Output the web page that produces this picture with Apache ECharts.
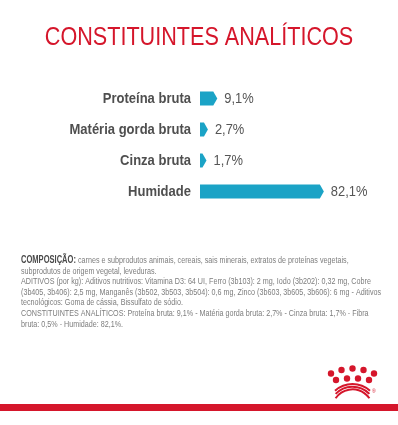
<!DOCTYPE html>
<html>
<head>
<meta charset="utf-8">
<style>
  html, body { margin: 0; padding: 0; background: #fff; }
  #chart { width: 398px; height: 425px; }
</style>
<script src="https://cdn.jsdelivr.net/npm/echarts@6/dist/echarts.min.js"></script>
</head>
<body>
<div id="chart"></div>
<script>
const categories = ['Proteína bruta', 'Matéria gorda bruta', 'Cinza bruta', 'Humidade']
const values = [9.1, 2.7, 1.7, 82.1]

const compositionLines = [
  '{b|COMPOSIÇÃO:} carnes e subprodutos animais, cereais, sais minerais, extratos de proteínas vegetais,',
  'subprodutos de origem vegetal, leveduras.',
  'ADITIVOS (por kg): Aditivos nutritivos: Vitamina D3: 64 UI, Ferro (3b103): 2 mg, Iodo (3b202): 0,32 mg, Cobre',
  '(3b405, 3b406): 2,5 mg, Manganês (3b502, 3b503, 3b504): 0,6 mg, Zinco (3b603, 3b605, 3b606): 6 mg - Aditivos',
  'tecnológicos: Goma de cássia, Bissulfato de sódio.',
  'CONSTITUINTES ANALÍTICOS: Proteína bruta: 9,1% - Matéria gorda bruta: 2,7% - Cinza bruta: 1,7% - Fibra',
  'bruta: 0,5% - Humidade: 82,1%.'
]

const FONT = "'Liberation Sans', Arial, sans-serif"
const RED = '#d5162b'
const TEAL = '#1ba3c6'

const fmt = v => v.toFixed(1).replace('.', ',') + '%'

const chart = echarts.init(document.getElementById('chart'), null, { renderer: 'canvas' })

// crown logo, bottom right
const crownDots = [
  [331, 373.5], [341.5, 370], [352.5, 368.5], [363.5, 370], [374, 373.5],
  [336, 380], [347, 378.5], [358, 378.5], [369, 380]
]
const crown = crownDots.map(p => ({
  type: 'circle',
  shape: { cx: p[0], cy: p[1], r: 3.2 },
  style: { fill: RED }
}))
;[26, 23.3, 20.6].forEach(r => {
  const half = Math.asin(17.5 / r) * (r === 26 ? 1 : 0.95)
  crown.push({
    type: 'arc',
    shape: { cx: 352.5, cy: 410, r: r, startAngle: -Math.PI / 2 - half, endAngle: -Math.PI / 2 + half },
    style: { stroke: RED, lineWidth: 2, fill: null }
  })
})

chart.setOption({
  animation: false,
  textStyle: { fontFamily: FONT },
  grid: { left: 200, right: 52, top: 83, height: 124 },
  xAxis: { type: 'value', min: 0, max: 100, show: false },
  yAxis: {
    type: 'category',
    data: categories,
    inverse: true,
    axisLine: { show: false },
    axisTick: { show: false },
    splitLine: { show: false },
    axisLabel: { show: false }
  },
  series: [{
    type: 'custom',
    encode: { x: 0, y: 1 },
    data: values.map((v, i) => [v, i]),
    renderItem: (params, api) => {
      const v = api.value(0)
      const ci = api.value(1)
      const p0 = api.coord([0, ci])
      const p1 = api.coord([v, ci])
      const h = 14
      const tip = 4
      const y = p0[1]
      return {
        type: 'group',
        children: [
          {
            type: 'polygon',
            shape: { points: [[p0[0], y - h / 2], [p1[0], y - h / 2], [p1[0] + tip, y], [p1[0], y + h / 2], [p0[0], y + h / 2]] },
            style: { fill: TEAL }
          },
          {
            // category name, narrowed to mimic the condensed face
            type: 'text',
            x: p0[0] - 9,
            y: y,
            scaleX: 0.84,
            style: { text: categories[ci], fontFamily: FONT, fontSize: 15.5, fontWeight: 'bold', fill: '#4f4f4f', align: 'right', verticalAlign: 'middle' }
          },
          {
            type: 'text',
            x: p1[0] + tip + 7,
            y: y,
            scaleX: 0.86,
            style: { text: fmt(v), fontFamily: FONT, fontSize: 15, fill: '#555', align: 'left', verticalAlign: 'middle' }
          }
        ]
      }
    }
  }],
  graphic: [
    {
      type: 'text', x: 199, y: 38, scaleX: 0.815,
      style: { text: 'CONSTITUINTES ANALÍTICOS', fontFamily: FONT, fontSize: 26.5, fill: RED, align: 'center', verticalAlign: 'middle' }
    },
    {
      type: 'text', x: 21, y: 255, scaleX: 0.755,
      style: {
        text: compositionLines.join('\n'),
        fontFamily: FONT, fontSize: 9.5, fill: '#7d7d7d', lineHeight: 10.6,
        rich: { b: { fontFamily: FONT, fontSize: 10, fontWeight: 'bold', fill: '#4a4a4a', lineHeight: 10.6 } }
      }
    },
    { type: 'group', children: crown },
    { type: 'text', x: 372, y: 389, style: { text: '®', fontSize: 5, fill: RED } },
    { type: 'rect', shape: { x: 0, y: 404, width: 398, height: 7 }, style: { fill: RED } }
  ]
})
</script>
</body>
</html>
